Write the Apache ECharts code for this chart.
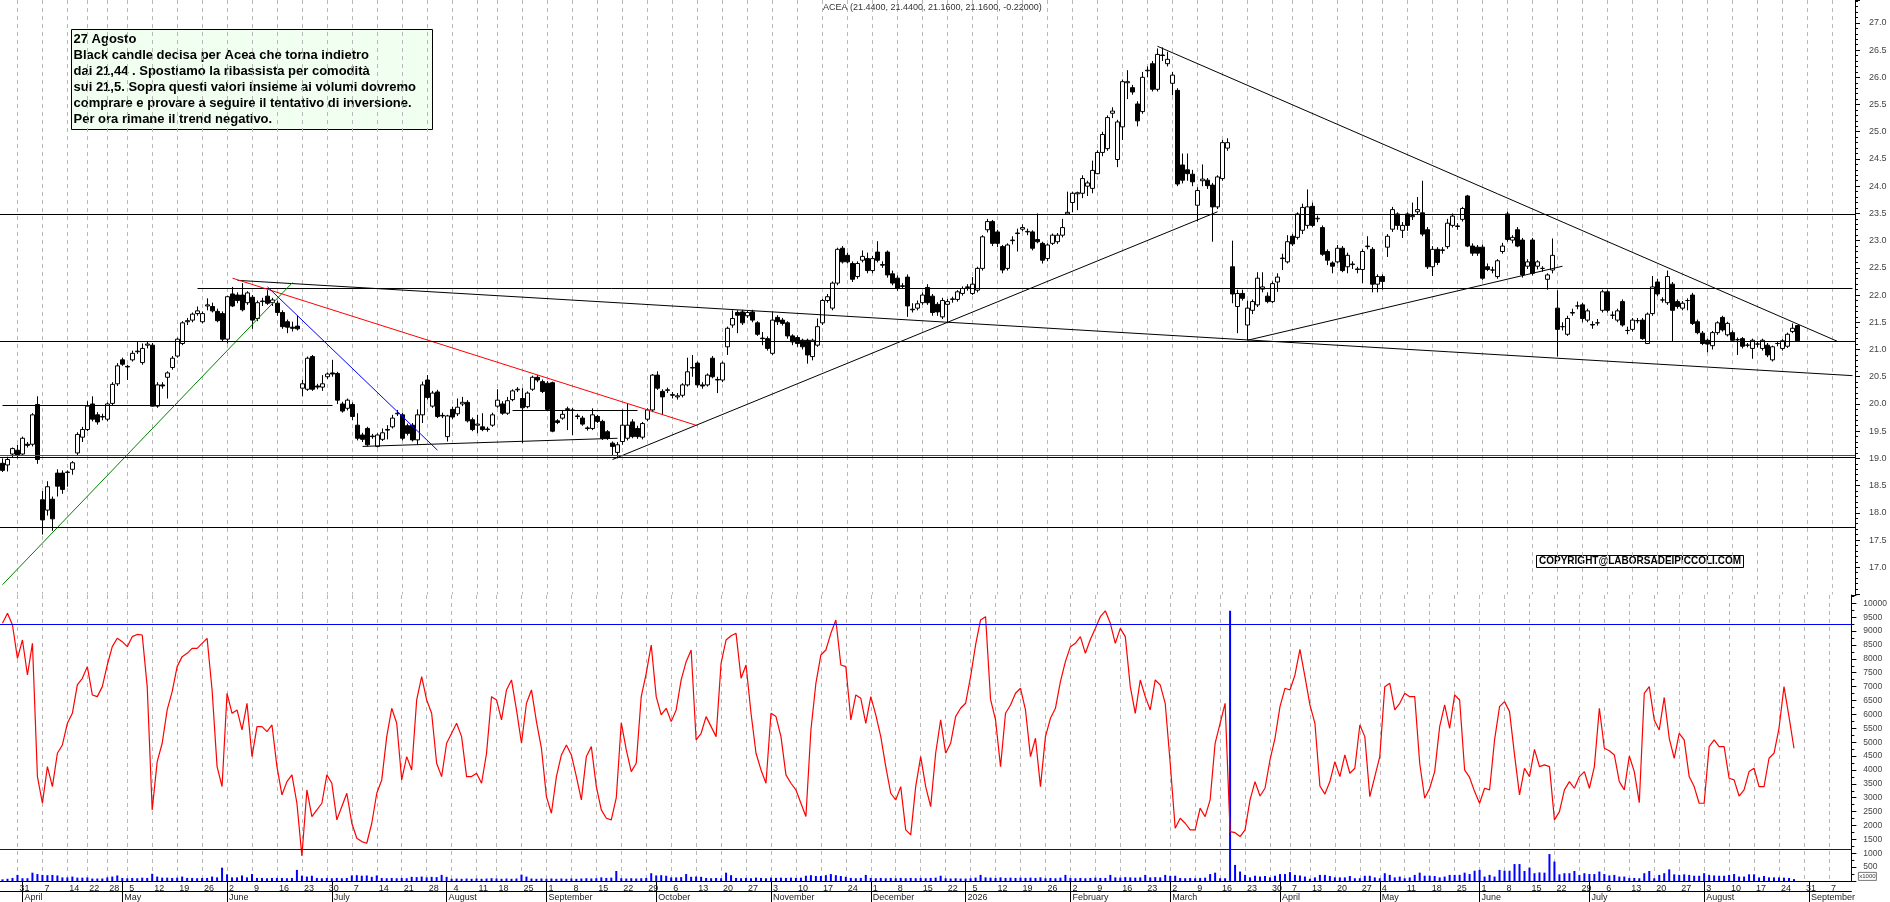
<!doctype html>
<html>
<head>
<meta charset="utf-8">
<script src="https://cdn.jsdelivr.net/npm/echarts@6/dist/echarts.min.js"></script>
<style>
html,body{margin:0;padding:0;background:#fff;}
#chart{width:1890px;height:902px;}
</style>
</head>
<body>
<div id="chart"></div>
<script>
// Borsa Italiana closing days inside the period
var holidays = ['2025-04-18','2025-04-21','2025-05-01','2025-08-15','2025-12-24','2025-12-25','2025-12-26','2025-12-31','2026-01-01','2026-04-03','2026-04-06','2026-05-01'];
var monthNames = ['2026','February','March','April','May','June','July','August','September','October','November','December'];

// trading days 26 Mar 2025 .. 11 Sep 2026 (data ends 27 Aug 2026)
var dates = [];
(function () {
	var d = new Date(Date.UTC(2025, 2, 26));
	var end = Date.UTC(2026, 8, 11);
	while (d.getTime() <= end) {
		var wd = d.getUTCDay();
		var s = d.toISOString().slice(0, 10);
		if (wd !== 0 && wd !== 6 && holidays.indexOf(s) < 0) dates.push(s);
		d.setUTCDate(d.getUTCDate() + 1);
	}
})();

// daily candles [open, high, low, close]
var ohlc = [
[18.91,19.00,18.75,18.78],[18.88,19.03,18.76,18.98],[19.08,19.20,19.02,19.18],[19.15,19.25,19.00,19.06],[19.08,19.40,19.05,19.37],
[19.26,19.30,19.20,19.24],[19.26,19.83,19.22,19.80],[19.99,20.14,18.90,18.98],[18.24,18.40,17.60,17.87],[18.05,18.58,17.95,18.48],
[18.25,18.30,17.67,17.89],[18.73,18.80,18.30,18.49],[18.73,18.78,18.35,18.43],[18.74,18.78,18.48,18.75],[18.80,18.95,18.70,18.92],
[19.10,19.48,19.05,19.44],[19.39,19.58,19.30,19.53],[19.53,20.05,19.50,19.96],[20.00,20.14,19.68,19.72],[19.80,19.85,19.62,19.67],
[19.76,19.82,19.70,19.77],[19.72,20.03,19.68,20.00],[20.01,20.40,19.98,20.36],[20.37,20.75,20.33,20.70],[20.81,20.85,20.70,20.73],
[20.69,20.72,20.44,20.68],[20.81,20.98,20.78,20.93],[20.96,21.14,20.92,20.97],[20.76,21.11,20.72,21.02],[21.08,21.14,21.02,21.10],
[21.08,21.12,19.95,19.96],[19.96,20.40,19.93,20.35],[20.35,20.40,20.28,20.33],[20.49,20.60,20.10,20.57],[20.67,20.88,20.63,20.84],
[20.88,21.22,20.85,21.19],[21.11,21.52,21.08,21.49],[21.51,21.58,21.45,21.53],[21.54,21.68,21.50,21.65],[21.66,21.79,21.62,21.71],
[21.51,21.70,21.48,21.66],[21.80,21.94,21.72,21.82],[21.79,21.86,21.68,21.71],[21.70,21.75,21.50,21.53],[21.66,21.70,21.15,21.19],
[21.19,21.99,21.11,21.97],[22.02,22.15,21.78,21.80],[22.00,22.05,21.85,21.90],[22.00,22.22,21.70,21.73],[21.86,22.07,21.82,22.04],
[21.96,22.00,21.38,21.54],[21.57,21.90,21.52,21.86],[21.88,21.95,21.80,21.89],[21.98,22.09,21.82,21.85],[21.86,21.95,21.80,21.91],
[21.85,21.90,21.62,21.68],[21.68,21.72,21.38,21.42],[21.51,21.55,21.30,21.41],[21.41,21.51,21.33,21.39],[21.43,21.62,21.35,21.38],
[20.29,20.44,20.14,20.37],[20.27,20.87,20.24,20.84],[20.87,20.90,20.24,20.27],[20.33,20.37,20.27,20.31],[20.31,20.53,20.24,20.37],
[20.50,20.58,20.46,20.55],[20.57,20.81,20.50,20.55],[20.56,20.59,20.00,20.07],[20.00,20.04,19.84,19.87],[19.92,20.10,19.88,20.07],
[19.99,20.03,19.70,19.77],[19.61,19.83,19.33,19.37],[19.43,19.47,19.30,19.35],[19.55,19.58,19.22,19.25],[19.40,19.45,19.36,19.41],
[19.22,19.46,19.20,19.43],[19.35,19.55,19.32,19.47],[19.53,19.61,19.35,19.52],[19.58,19.80,19.55,19.74],[19.82,19.89,19.78,19.83],
[19.80,19.84,19.33,19.37],[19.60,19.64,19.42,19.46],[19.61,19.65,19.31,19.34],[19.34,19.90,19.25,19.80],[19.80,20.41,19.65,20.35],
[20.44,20.53,20.08,20.12],[19.96,20.24,19.93,20.20],[20.22,20.26,19.74,19.77],[19.79,19.84,19.74,19.78],[19.40,19.80,19.31,19.78],
[19.90,19.95,19.72,19.76],[19.82,20.10,19.78,19.94],[20.00,20.13,19.96,20.03],[20.03,20.07,19.66,19.69],[19.71,19.75,19.50,19.53],
[19.61,19.80,19.46,19.63],[19.58,19.83,19.50,19.53],[19.54,19.58,19.49,19.53],[19.61,19.84,19.58,19.80],[19.96,20.27,19.93,20.07],
[20.00,20.05,19.80,19.83],[19.83,20.13,19.80,20.06],[20.08,20.27,20.05,20.24],[20.26,20.31,20.22,20.27],[20.10,20.29,19.28,19.93],
[19.95,20.23,19.92,20.20],[20.27,20.52,20.24,20.49],[20.49,20.53,20.40,20.44],[20.41,20.45,20.20,20.23],[20.38,20.42,19.87,19.90],
[20.39,20.41,19.48,19.50],[19.69,19.72,19.63,19.66],[19.74,19.89,19.71,19.81],[19.91,19.95,19.52,19.90],[19.89,19.93,19.43,19.88],
[19.78,19.82,19.72,19.77],[19.74,19.78,19.60,19.63],[19.56,19.59,19.51,19.55],[19.55,19.92,19.52,19.80],[19.77,19.80,19.65,19.68],
[19.68,19.71,19.34,19.37],[19.49,19.52,19.34,19.37],[19.28,19.31,19.05,19.22],[19.11,19.30,19.00,19.25],[19.31,19.90,19.25,19.61],
[19.37,20.00,19.33,19.61],[19.67,19.72,19.37,19.40],[19.55,19.60,19.36,19.40],[19.39,19.67,19.35,19.64],[19.72,19.92,19.68,19.89],
[19.89,20.55,19.85,20.53],[20.53,20.60,20.26,20.29],[20.23,20.27,19.80,20.13],[20.25,20.30,20.20,20.26],[20.17,20.22,20.10,20.16],
[20.13,20.20,20.08,20.15],[20.16,20.38,20.12,20.35],[20.35,20.85,20.32,20.59],[20.66,20.90,20.50,20.67],[20.75,20.78,20.30,20.35],
[20.35,20.40,20.28,20.33],[20.35,20.56,20.32,20.53],[20.84,20.88,20.47,20.50],[20.45,20.50,20.20,20.44],[20.44,20.78,20.40,20.75],
[21.05,21.42,20.90,21.39],[21.45,21.72,21.40,21.57],[21.68,21.72,21.30,21.63],[21.69,21.73,21.45,21.49],[21.62,21.72,21.58,21.68],
[21.69,21.73,21.50,21.54],[21.49,21.52,21.25,21.28],[21.21,21.32,21.08,21.20],[21.20,21.24,20.98,21.02],[20.93,21.70,20.90,21.54],
[21.59,21.63,21.45,21.51],[21.54,21.58,21.44,21.48],[21.49,21.52,21.20,21.25],[21.25,21.28,21.08,21.14],[21.22,21.26,21.05,21.11],
[21.17,21.20,21.00,21.05],[21.17,21.20,20.74,20.90],[20.87,21.20,20.80,21.17],[21.08,21.57,21.05,21.42],[21.49,21.93,21.45,21.90],
[21.90,22.02,21.86,21.97],[21.76,22.25,21.72,22.22],[22.22,22.87,22.18,22.84],[22.86,22.90,22.58,22.61],[22.73,22.78,22.58,22.61],
[22.58,22.62,22.24,22.29],[22.34,22.62,22.30,22.58],[22.64,22.82,22.60,22.71],[22.67,22.78,22.40,22.45],[22.45,22.72,22.40,22.67],
[22.79,22.99,22.60,22.64],[22.56,22.62,22.50,22.55],[22.79,22.82,22.32,22.37],[22.39,22.45,22.18,22.22],[22.31,22.36,22.08,22.12],
[22.17,22.22,22.12,22.16],[22.33,22.38,21.60,21.80],[21.74,21.85,21.68,21.73],[21.76,21.90,21.72,21.84],[21.86,22.05,21.82,22.00],
[22.14,22.20,21.82,21.86],[21.98,22.02,21.62,21.68],[21.83,21.87,21.62,21.69],[21.60,21.95,21.56,21.90],[21.83,21.93,21.50,21.88],
[21.92,21.97,21.86,21.93],[21.92,22.09,21.88,22.06],[22.03,22.16,21.99,22.12],[22.14,22.20,22.08,22.15],[22.03,22.33,22.00,22.20],
[22.09,22.52,22.05,22.49],[22.49,23.10,22.45,23.07],[23.20,23.40,23.15,23.35],[23.35,23.38,22.90,22.95],[23.16,23.20,22.88,22.95],
[22.89,22.92,22.40,22.46],[22.49,22.95,22.45,22.92],[23.00,23.08,22.93,23.01],[23.13,23.22,22.80,23.14],[23.21,23.30,23.17,23.24],
[23.16,23.22,23.10,23.17],[23.16,23.19,22.82,22.86],[23.02,23.50,22.95,22.98],[22.95,22.98,22.58,22.64],[22.67,22.95,22.62,22.92],
[22.95,23.13,22.92,23.10],[22.98,23.14,22.94,23.10],[23.10,23.40,23.06,23.24],[23.49,23.90,23.48,23.52],[23.70,23.90,23.52,23.87],
[23.86,23.90,23.56,23.88],[23.87,24.20,23.78,24.14],[24.00,24.10,23.82,24.06],[23.96,24.47,23.87,24.29],[24.23,24.66,24.22,24.62],
[24.62,25.00,24.55,24.95],[24.69,25.30,24.65,25.26],[25.34,25.45,25.25,25.38],[24.49,25.22,24.35,25.18],[25.09,25.96,24.85,25.92],
[25.90,26.13,25.60,25.92],[25.81,25.86,25.68,25.73],[25.51,25.56,25.10,25.20],[25.37,26.10,25.33,26.00],[26.12,26.20,26.00,26.13],
[26.25,26.30,25.74,25.78],[25.78,26.53,25.74,26.42],[26.41,26.55,26.30,26.40],[26.25,26.47,26.20,26.33],[25.89,26.10,25.67,26.04],
[25.76,25.80,24.00,24.04],[24.39,24.60,24.05,24.11],[24.30,24.60,24.10,24.23],[24.22,24.30,24.00,24.08],[23.65,23.98,23.35,23.92],
[24.10,24.40,24.00,24.13],[24.11,24.15,23.95,24.01],[24.02,24.06,22.98,23.62],[23.62,24.20,23.58,24.17],[24.14,24.85,24.10,24.80],
[24.70,24.88,24.65,24.80],[22.52,23.00,21.85,22.02],[21.79,22.10,21.30,22.03],[22.03,22.10,21.90,21.94],[21.45,21.90,21.17,21.76],
[21.72,21.92,21.65,21.88],[21.82,22.42,21.78,22.31],[22.11,22.42,22.05,22.15],[21.98,22.05,21.85,21.88],[21.88,22.25,21.85,22.21],
[22.24,22.40,22.06,22.33],[22.67,22.76,22.46,22.68],[22.61,23.10,22.58,22.98],[23.08,23.12,22.90,22.94],[23.06,23.52,23.02,23.49],
[23.19,23.68,23.12,23.61],[23.28,23.94,23.22,23.62],[23.63,23.70,23.25,23.28],[23.40,23.46,23.34,23.41],[23.24,23.28,22.72,22.75],
[22.80,22.84,22.55,22.64],[22.59,22.62,22.40,22.53],[22.61,22.92,22.58,22.86],[22.86,22.90,22.42,22.45],[22.52,22.78,22.40,22.73],
[22.56,22.62,22.48,22.57],[22.48,22.52,22.40,22.47],[22.47,22.84,22.22,22.80],[22.89,23.08,22.84,22.90],[22.84,22.88,22.05,22.20],
[22.20,22.38,22.05,22.34],[22.34,22.38,22.10,22.25],[22.88,23.12,22.70,23.08],[23.21,23.62,23.16,23.57],[23.49,23.52,23.20,23.28],
[23.19,23.34,23.05,23.28],[23.49,23.52,23.18,23.28],[23.44,23.70,23.38,23.46],[23.53,23.80,23.48,23.57],[23.51,24.10,23.08,23.12],
[23.20,23.25,22.48,22.52],[22.52,22.90,22.35,22.84],[22.84,22.88,22.55,22.60],[22.82,22.88,22.76,22.83],[22.89,23.40,22.85,23.32],
[23.28,23.50,23.24,23.45],[23.27,23.32,23.20,23.26],[23.39,23.62,23.35,23.59],[23.82,23.84,22.88,22.90],[22.90,22.95,22.72,22.77],
[22.88,22.92,22.72,22.77],[22.88,22.93,22.28,22.31],[22.52,22.58,22.44,22.47],[22.46,22.52,22.40,22.46],[22.34,22.66,22.30,22.63],
[22.80,22.96,22.76,22.90],[23.49,23.53,22.98,23.02],[23.01,23.10,22.95,23.06],[23.20,23.25,22.88,22.90],[23.01,23.05,22.32,22.37],
[22.53,22.66,22.48,22.61],[23.01,23.05,22.36,22.40],[22.53,22.64,22.47,22.61],[22.49,22.53,22.43,22.49],[22.29,22.40,22.10,22.37],
[22.46,23.04,22.40,22.73],[21.76,22.09,20.87,21.37],[21.42,21.50,21.35,21.42],[21.28,21.62,21.25,21.57],[21.67,21.75,21.62,21.68],
[21.80,21.88,21.74,21.80],[21.82,21.86,21.50,21.57],[21.54,21.75,21.50,21.71],[21.46,21.52,21.38,21.45],[21.49,21.56,21.44,21.49],
[21.72,22.10,21.68,22.06],[22.06,22.10,21.68,21.72],[21.63,21.70,21.56,21.63],[21.54,21.75,21.50,21.71],[21.88,21.92,21.42,21.45],
[21.35,21.42,21.28,21.35],[21.37,21.58,21.33,21.54],[21.53,21.58,21.48,21.53],[21.54,21.58,21.18,21.20],[21.11,21.68,21.10,21.65],
[21.66,22.35,21.62,22.15],[22.24,22.30,21.98,22.02],[21.91,21.96,21.86,21.91],[21.86,22.45,21.82,22.34],[22.20,22.24,21.15,21.72],
[21.88,21.92,21.75,21.79],[21.76,21.89,21.72,21.85],[21.90,21.94,21.72,21.90],[22.00,22.04,21.45,21.48],[21.51,21.55,21.28,21.31],
[21.30,21.34,21.08,21.11],[21.17,21.20,20.95,21.10],[21.07,21.34,21.00,21.31],[21.31,21.52,21.27,21.49],[21.59,21.62,21.33,21.36],
[21.27,21.51,21.24,21.48],[21.31,21.35,21.14,21.17],[21.18,21.22,20.90,21.18],[21.20,21.23,21.02,21.06],[21.08,21.12,21.04,21.08],
[21.02,21.20,20.83,21.17],[21.10,21.14,21.04,21.10],[21.02,21.20,20.98,21.17],[21.08,21.12,20.86,20.90],[20.81,21.07,20.78,21.05],
[21.11,21.15,21.06,21.11],[21.02,21.19,20.98,21.16],[21.06,21.31,21.03,21.28],[21.33,21.48,21.30,21.39],[21.44,21.44,21.16,21.16]
];

// volume (x1000)
var volumes = [
60,80,110,220,100,100,300,250,220,210, 220,200,130,130,160,120,120,130,90,90,
90,130,160,200,110,100,110,100,120,110, 260,160,120,120,110,120,160,110,110,100,
110,110,160,130,480,240,130,130,200,130, 250,110,110,100,110,110,110,100,110,400,
190,160,190,110,100,110,100,110,100,110, 200,210,190,200,150,200,110,100,110,100,
110,100,150,140,160,130,150,140,220,150, 80,90,80,90,80,90,80,90,100,90,
80,90,80,90,230,160,90,80,90,80, 90,80,90,80,90,80,90,100,90,100,
130,110,120,360,100,90,100,90,100,110, 280,200,210,190,130,130,140,250,150,160,
150,110,100,110,100,300,210,110,100,110, 100,120,110,100,120,110,120,110,120,110,
120,190,210,180,180,210,250,210,180,150, 110,100,110,220,110,100,110,100,110,100,
110,100,110,100,110,100,110,120,190,100, 90,100,90,90,100,120,220,130,120,110,
130,110,120,110,120,110,120,110,130,100, 110,100,120,220,110,100,110,100,110,120,
110,110,220,130,120,140,130,120,130,220, 130,140,130,220,180,190,110,100,110,100,
110,120,250,300,100,100,9730,580,340,220, 130,190,160,180,130,190,250,250,320,220,
200,160,80,130,220,220,180,130,130,130, 180,100,100,190,190,130,100,280,220,130,
160,100,130,220,300,190,190,180,130,160, 220,220,220,300,250,370,400,160,220,160,
400,370,370,610,610,360,480,280,310,300, 970,700,240,280,280,360,220,280,250,250,
340,250,200,220,160,160,110,110,100,280, 360,100,220,280,420,240,220,240,220,190,
190,280,220,200,190,190,220,250,160,160, 240,240,130,180,130,130,130,120,110,70
];

// red oscillator of the lower panel
var oscValues = [
9280,9640,9220,8020,8680,7420,8560,3760,2800,4120, 3400,4600,4900,5680,6040,7060,7300,7720,6700,6640,
7000,7780,8440,8740,8620,8440,8800,8880,8860,7000, 2560,4300,4960,6160,6820,7720,8080,8200,8380,8380,
8560,8740,6880,4120,3400,6760,6040,6160,5440,6400, 4480,5560,5560,5380,5620,4120,3100,3580,3820,2800,
900,3280,2320,2560,2800,3820,3520,2200,2680,3160, 2080,1540,1420,1360,2080,3160,3640,5200,6220,5680,
3640,4480,4000,6520,7360,6520,6040,4240,3760,4960, 5320,5680,5200,3760,3760,3880,3520,4600,6640,6520,
5800,6880,7240,6160,4960,6400,6880,5740,4780,3040, 2440,3760,4540,4900,4540,3760,2920,4480,4840,3400,
2560,2260,2200,3000,5700,4720,3940,4240,6640,7480, 8500,6640,5980,6220,5740,6160,7240,7900,8320,5080,
5320,5920,5560,5200,7840,8680,8830,8920,7300,7780, 6040,4600,4000,3520,6040,5920,5200,3820,3520,3280,
2800,2320,5440,7120,8140,8320,8920,9400,7780,7720, 5800,6700,6580,5680,6640,5980,5200,4120,3160,2920,
3400,1840,1660,3400,4480,3400,2680,4600,5800,4600, 4960,5920,6220,6400,7360,8500,9400,9520,6540,5800,
4120,6040,6340,6760,6940,6160,4480,5140,3400,5200, 5860,6220,7180,7900,8440,8560,8800,8200,8700,9100,
9520,9730,9280,8560,9100,8800,7000,6040,7240,6640, 6160,7240,7060,6400,4240,1900,2260,2080,1840,1840,
2620,2320,2920,4960,5680,6400,1780,1740,1600,1840, 2920,3580,3060,3340,4360,5140,6280,6940,6880,7420,
8340,7360,6340,5680,3420,3130,3580,4300,3760,4540, 3880,4060,5620,5200,3040,3760,4480,7000,7120,6160,
6400,6760,6640,6640,4240,2980,3340,3940,5560,6340, 5500,6700,6520,4000,3730,3220,2800,3340,3280,5080,
6280,6460,6100,4540,3100,4060,3760,4740,4120,4180, 4120,2200,2500,3280,3580,3340,3760,3940,3340,4120,
6220,4780,4690,4540,3580,3280,4500,3940,2820,6760, 7000,5800,5440,6610,5140,4420,5320,5080,3760,3400,
2800,2800,4840,5080,4840,4840,3700,3640,3060,3280, 3940,4060,3400,3400,4420,4600,5500,7000,5920,4780
];

// drawn lines on the price panel: [startIndex, startPrice, endIndex, endPrice]
var trendBlack = [
	[47, 22.27, 370, 20.52],
	[72, 19.22, 123, 19.37],
	[102, 19.89, 127, 19.89],
	[122, 18.98, 243, 23.53],
	[231, 26.57, 367, 21.15],
	[249, 21.17, 312, 22.53],
	[39, 22.12, 370, 22.12],
	[0, 19.97, 66, 19.97]
];
var trendGreen = [[0, 16.68, 58, 22.23]];
var trendRed = [[46, 22.31, 139, 19.60]];
var trendBlue = [[53, 22.15, 87, 19.15]];
var levelBlack = [23.48, 21.15, 19.02, 17.73];
var levelRed = [19.06];
var oscBands = [9240, 1150];

var noteLines = [
	'27 Agosto',
	'Black candle decisa per Acea che torna indietro',
	'dai 21,44 . Spostiamo la ribassista per comodità',
	'sui 21,5. Sopra questi valori insieme ai volumi dovremo',
	'comprare e provare a seguire il tentativo di inversione.',
	'Per ora rimane il trend negativo.'
];

// week starts (gridlines / day labels) and month starts
var weekStart = {}, monthStart = {};
(function () {
	var lastWeek = null, lastLabel = -10, lastMonth = dates[0].slice(0, 7);
	for (var i = 0; i < dates.length; i++) {
		var d = new Date(dates[i] + 'T00:00:00Z');
		var wd = (d.getUTCDay() + 6) % 7;
		var mon = new Date(d.getTime() - wd * 86400000).toISOString().slice(0, 10);
		if (mon !== lastWeek) {
			if (i > 0 && i - lastLabel >= 3) { weekStart[i] = true; lastLabel = i; }
			lastWeek = mon;
		}
		var m = dates[i].slice(0, 7);
		if (m !== lastMonth) { monthStart[i] = true; lastMonth = m; }
	}
})();
function isWeek(i) { return !!weekStart[i]; }
function isMonth(i) { return !!monthStart[i]; }

function segs(list, color) {
	return list.map(function (t) {
		return [{ coord: [t[0], t[1]], lineStyle: { color: color, width: 1, type: 'solid' } }, { coord: [t[2], t[3]] }];
	});
}
function levels(list, color) {
	return list.map(function (v) { return { yAxis: v, lineStyle: { color: color, width: 1.2, type: 'solid' } }; });
}

var candleData = ohlc.map(function (r) { return [r[0], r[3], r[2], r[1]]; });

var chart = echarts.init(document.getElementById('chart'));
var font = 'Liberation Sans';
var gridLine = { color: '#b8b8b8', width: 1, type: [4, 4] };

var option = {
	animation: false,
	backgroundColor: '#ffffff',
	textStyle: { fontFamily: font },
	title: {
		text: 'ACEA (21.4400, 21.4400, 21.1600, 21.1600, -0.22000)',
		left: 823, top: 3, padding: 0,
		textStyle: { fontSize: 9, fontWeight: 'normal', color: '#333', fontFamily: font }
	},
	grid: [
		{ left: 0, right: 35, top: 0, height: 594.5 },
		{ left: 0, right: 35, top: 595, height: 286 }
	],
	xAxis: [{
		type: 'category', gridIndex: 0, data: dates,
		axisLine: { show: false }, axisTick: { show: false }, axisLabel: { show: false },
		splitLine: { show: true, interval: isWeek, alignWithLabel: true, lineStyle: gridLine }
	}, {
		type: 'category', gridIndex: 1, data: dates,
		axisLine: { show: true, lineStyle: { color: '#000', width: 1 } },
		axisTick: { show: true, interval: isMonth, alignWithLabel: true, length: 10, lineStyle: { color: '#000' } },
		axisLabel: {
			interval: isWeek, align: 'left', margin: 3, padding: [0, 0, 0, 2],
			fontSize: 9, color: '#222',
			formatter: function (v) { return String(parseInt(v.slice(8, 10), 10)); }
		},
		splitLine: { show: true, interval: isWeek, alignWithLabel: true, lineStyle: gridLine }
	}, {
		type: 'category', gridIndex: 1, data: dates, position: 'bottom', offset: 10,
		axisLine: { show: true, lineStyle: { color: '#000', width: 1 } },
		axisTick: { show: true, interval: isMonth, alignWithLabel: true, length: 11, lineStyle: { color: '#000' } },
		axisLabel: {
			interval: isMonth, align: 'left', margin: 2, padding: [0, 0, 0, 2],
			fontSize: 9, color: '#222',
			formatter: function (v) { return monthNames[parseInt(v.slice(5, 7), 10) - 1]; }
		},
		splitLine: { show: false }
	}],
	yAxis: [{
		type: 'value', gridIndex: 0, position: 'right',
		min: 16.5, max: 27.42, interval: 0.5,
		axisLine: { show: true, lineStyle: { color: '#000' } },
		axisTick: { show: true, length: 5, lineStyle: { color: '#000' } },
		minorTick: { show: true, splitNumber: 5, length: 3, lineStyle: { color: '#000' } },
		axisLabel: {
			showMinLabel: false, showMaxLabel: false, margin: 14, fontSize: 9, color: '#444',
			formatter: function (v) { return v.toFixed(1); }
		},
		splitLine: { show: false }
	}, {
		type: 'value', gridIndex: 1, position: 'right',
		min: 0, max: 10300, interval: 500,
		axisLine: { show: true, lineStyle: { color: '#000' } },
		axisTick: { show: true, length: 5, lineStyle: { color: '#000' } },
		minorTick: { show: true, splitNumber: 2, length: 3, lineStyle: { color: '#000' } },
		axisLabel: {
			showMinLabel: false, showMaxLabel: false, margin: 12, fontSize: 8.5, color: '#444',
			formatter: function (v) { return String(v); }
		},
		splitLine: { show: false }
	}],
	series: [{
		name: 'ACEA', type: 'candlestick', xAxisIndex: 0, yAxisIndex: 0,
		data: candleData, barWidth: 4,
		itemStyle: { color: '#ffffff', color0: '#000000', borderColor: '#000000', borderColor0: '#000000', borderWidth: 1 },
		markLine: {
			silent: true, symbol: ['none', 'none'], label: { show: false }, animation: false,
			data: segs(trendBlack, '#000000')
				.concat(segs(trendGreen, '#008000'))
				.concat(segs(trendRed, '#ff0000'))
				.concat(segs(trendBlue, '#0000ff'))
				.concat(levels(levelBlack, '#000000'))
				.concat(levels(levelRed, '#ff0000'))
		}
	}, {
		name: 'Volume', type: 'bar', xAxisIndex: 1, yAxisIndex: 1,
		data: volumes, barWidth: 2,
		itemStyle: { color: '#0000ff' }
	}, {
		name: 'Osc', type: 'line', xAxisIndex: 1, yAxisIndex: 1,
		data: oscValues, symbol: 'none',
		lineStyle: { color: '#ff0000', width: 1.2 },
		markLine: {
			silent: true, symbol: ['none', 'none'], label: { show: false }, animation: false,
			data: levels(oscBands, '#0000ff')
		}
	}],
	graphic: [{
		type: 'group', left: 71, top: 29,
		children: [{
			type: 'rect', shape: { x: 0, y: 0, width: 361, height: 100 },
			style: { fill: '#f0fff0', stroke: '#000', lineWidth: 1 }
		}, {
			type: 'text', x: 2, y: 2,
			style: { text: noteLines.join('\n'), font: 'bold 13px "Liberation Sans", Arial, sans-serif', lineHeight: 16, fill: '#000' }
		}]
	}, {
		type: 'group', left: 1536, top: 555,
		children: [{
			type: 'rect', shape: { x: 0, y: 0, width: 207, height: 12 },
			style: { fill: '#fff', stroke: '#000', lineWidth: 1 }
		}, {
			type: 'text', x: 103.5, y: 6,
			style: { text: 'COPYRIGHT@LABORSADEIPICCOLI.COM', font: 'bold 10px "Liberation Sans", Arial, sans-serif', fill: '#000', align: 'center', verticalAlign: 'middle' }
		}]
	}, {
		type: 'group', left: 1858, top: 872,
		children: [{
			type: 'rect', shape: { x: 0, y: 0, width: 18, height: 8 },
			style: { fill: '#fff', stroke: '#555', lineWidth: 0.8 }
		}, {
			type: 'text', x: 9, y: 4,
			style: { text: 'x1000', font: '6px "Liberation Sans", Arial, sans-serif', fill: '#333', align: 'center', verticalAlign: 'middle' }
		}]
	}]
};

chart.setOption(option);
</script>
</body>
</html>
